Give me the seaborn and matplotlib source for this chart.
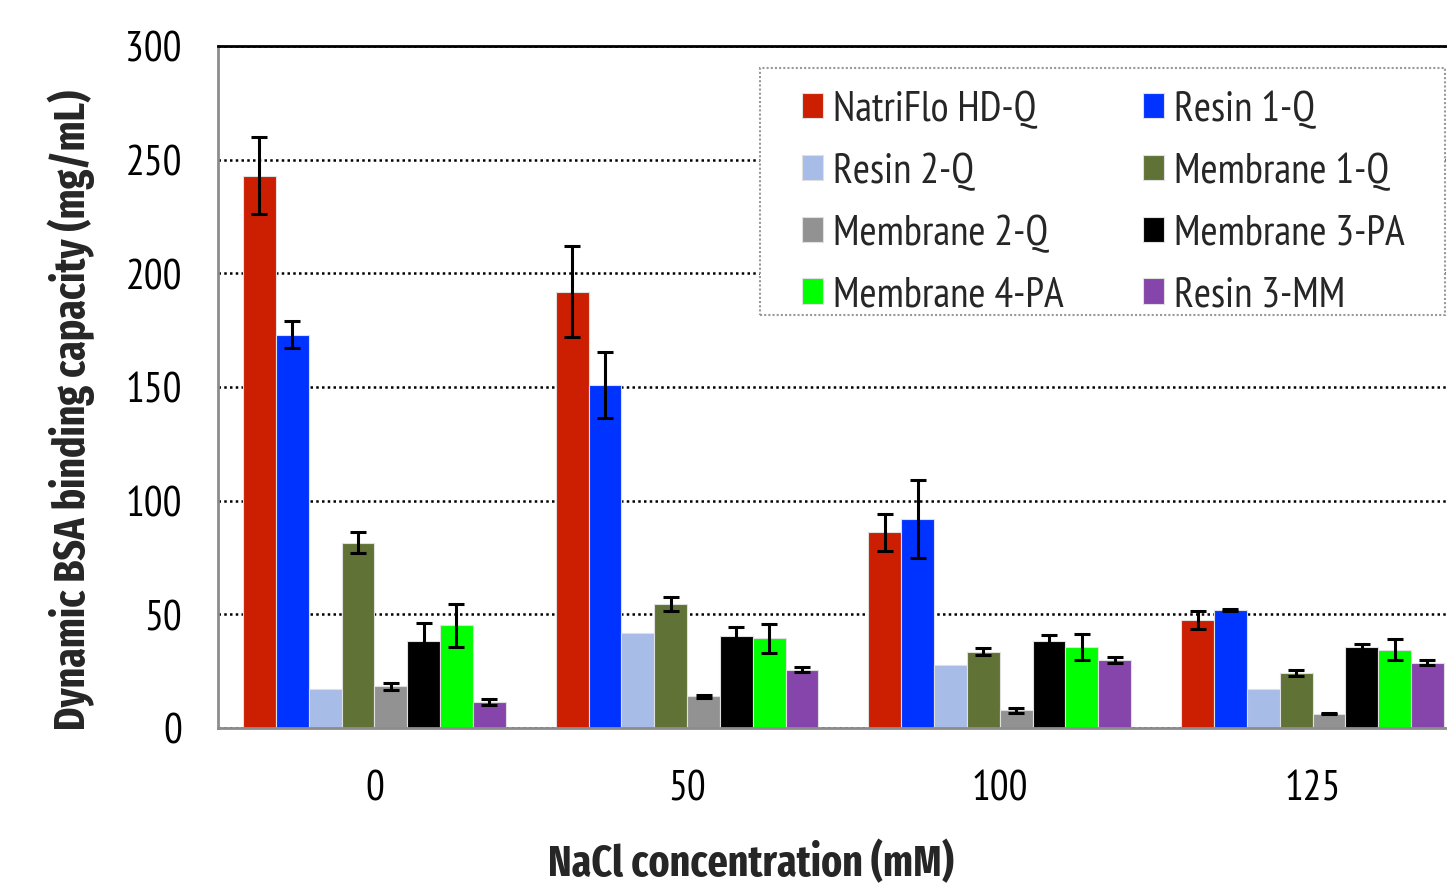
import matplotlib
matplotlib.use("Agg")
import matplotlib.pyplot as plt
from matplotlib.patches import Rectangle
import seaborn as sns
import pandas as pd
import numpy as np

# ---- data ----
nacl = ["0", "50", "100", "125"]
series = ["NatriFlo HD-Q", "Resin 1-Q", "Resin 2-Q", "Membrane 1-Q",
          "Membrane 2-Q", "Membrane 3-PA", "Membrane 4-PA", "Resin 3-MM"]
natriflo = [243, 192, 86, 47.5]
resin1 = [173, 151, 92, 52]
resin2 = [17, 42, 27.5, 17]
membrane1 = [81.5, 54.5, 33.5, 24]
membrane2 = [18.3, 13.9, 7.8, 6.3]
membrane3 = [38.3, 40.6, 38.1, 35.7]
membrane4 = [45.1, 39.5, 35.6, 34.5]
resin3 = [11.5, 25.6, 30.0, 28.7]

err_natriflo = [17, 20, 8, 4.1]
err_resin1 = [6, 14.5, 17, 0.5]
err_resin2 = [0, 0, 0, 0]
err_membrane1 = [4.7, 3.0, 1.5, 1.3]
err_membrane2 = [1.4, 0.5, 1.0, 0.3]
err_membrane3 = [8.0, 3.7, 2.6, 1.3]
err_membrane4 = [9.5, 6.4, 5.7, 4.6]
err_resin3 = [1.2, 1.1, 1.3, 1.2]

colors = ["#CC1E00", "#0033FF", "#A8BCE8", "#617236",
          "#929292", "#000000", "#00FF00", "#8545AA"]

values = [natriflo, resin1, resin2, membrane1, membrane2, membrane3, membrane4, resin3]
errors = [err_natriflo, err_resin1, err_resin2, err_membrane1, err_membrane2,
          err_membrane3, err_membrane4, err_resin3]

rows = []
for s, vals in zip(series, values):
    for c, v in zip(nacl, vals):
        rows.append({"NaCl": c, "series": s, "value": v})
df = pd.DataFrame(rows)

sns.set_style("white")
plt.rcParams['font.family'] = ['PT Sans Narrow', 'Roboto Condensed', 'Fira Sans Condensed',
                               'Archivo Narrow', 'DejaVu Sans']
bold_family = ['Fira Sans Extra Condensed', 'Fira Sans Condensed', 'Roboto Condensed',
               'Archivo Narrow', 'PT Sans Narrow', 'DejaVu Sans']

fig = plt.figure(figsize=(14.47, 8.95), dpi=100)
ax = fig.add_axes([218/1447, 1-729/895, 1-218/1447, (729-47)/895])

sns.barplot(data=df, x="NaCl", y="value", hue="series", order=nacl,
            hue_order=series, palette=colors, width=0.84, ax=ax,
            edgecolor="#e0e0e0", linewidth=0.8, errorbar=None, saturation=1)

for cont, errs in zip(ax.containers, errors):
    xs = [b.get_x() + b.get_width()/2 for b in cont]
    hs = [b.get_height() for b in cont]
    xe = [x for x, e in zip(xs, errs) if e > 0]
    he = [h for h, e in zip(hs, errs) if e > 0]
    ee = [e for e in errs if e > 0]
    ax.errorbar(xe, he, yerr=ee, fmt="none", ecolor="black",
                elinewidth=2.2, capsize=5.8, capthick=2.2, zorder=5)

ax.set_ylim(0, 300)
ax.set_xlim(-0.5, 3.43)
ax.set_yticks([0, 50, 100, 150, 200, 250, 300])
ax.yaxis.grid(True, color="black", linestyle=(0, (1, 1.3)), linewidth=1.8)
ax.set_axisbelow(True)
ax.tick_params(axis="both", length=0, labelsize=30, colors="black")
ax.tick_params(axis="x", pad=30)
ax.tick_params(axis="y", pad=26)

for side in ["left", "bottom"]:
    ax.spines[side].set_color("#8c8c8c")
    ax.spines[side].set_linewidth(2)
ax.spines["top"].set_color("black")
ax.spines["top"].set_linewidth(2)
ax.spines["right"].set_visible(False)

ax.set_xlabel("NaCl concentration (mM)", fontsize=31, fontweight="bold", family=bold_family)
ax.set_ylabel("Dynamic BSA binding capacity (mg/mL)", fontsize=31, fontweight="bold",
              family=bold_family)
ax.xaxis.set_label_coords(0.434, -0.165)
ax.yaxis.set_label_coords(-0.100, 0.468)

# legend box (dotted frame)
ax.add_patch(Rectangle((760/1447, 1-316/895), (1445-760)/1447, (316-69)/895,
                       transform=fig.transFigure, facecolor="white",
                       edgecolor="#999999", linestyle=(0, (1, 1)),
                       linewidth=1.5, zorder=10, clip_on=False))

handles, labels = ax.get_legend_handles_labels()
order = [0, 2, 4, 6, 1, 3, 5, 7]
leg = ax.legend([handles[i] for i in order], [labels[i] for i in order],
                ncol=2, loc="upper left", bbox_to_anchor=(802/1447, 1-91/895),
                bbox_transform=fig.transFigure, fontsize=30, frameon=False,
                handlelength=0.5, handleheight=0.55,
                handletextpad=0.24, columnspacing=1.9, labelspacing=0.55,
                borderpad=0, borderaxespad=0)
leg.set_zorder(20)

fig.savefig("out.png", dpi=100)
